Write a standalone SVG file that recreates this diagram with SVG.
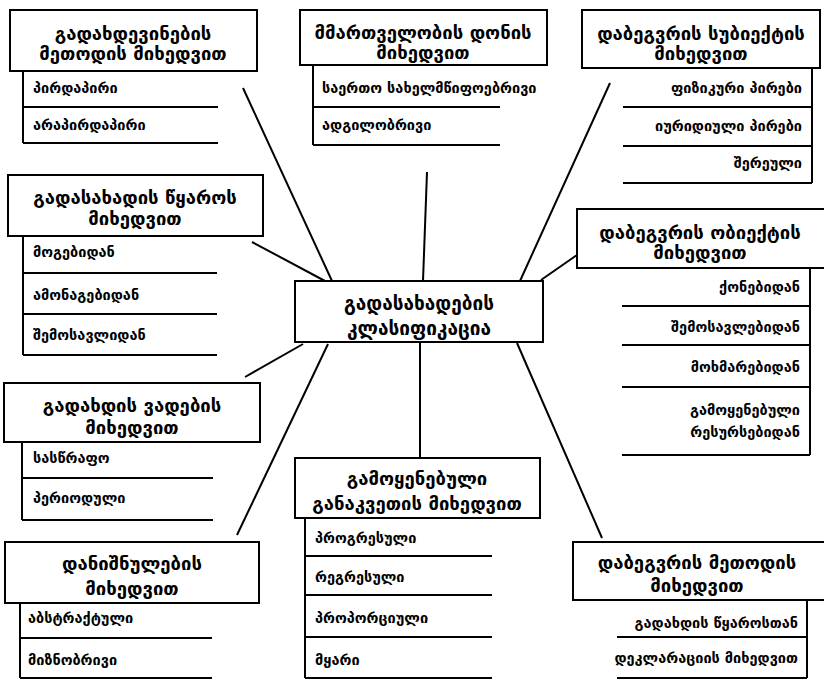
<svg xmlns="http://www.w3.org/2000/svg" width="824" height="680" viewBox="0 0 824 680">
<style>
.bg{fill:#fff}
.box{fill:#fff;stroke:#000;stroke-width:2}
.ln{stroke:#000;stroke-width:2;fill:none}
.t{font-family:"DejaVu Sans","Noto Sans",sans-serif;font-weight:bold;font-size:18.5px;fill:#000;text-anchor:middle;dominant-baseline:central}
.c{font-size:19px}
.i{font-family:"DejaVu Sans","Noto Sans",sans-serif;font-weight:bold;font-size:14.5px;fill:#000;dominant-baseline:central}
.r{text-anchor:end}
</style>
<rect class="bg" width="824" height="680"/>
<g id="connectors">
<line class="ln" x1="243" y1="88" x2="332" y2="281"/>
<line class="ln" x1="427" y1="172" x2="423" y2="281"/>
<line class="ln" x1="610" y1="83" x2="520" y2="281"/>
<line class="ln" x1="252" y1="242" x2="325" y2="281"/>
<line class="ln" x1="577" y1="255" x2="541" y2="280"/>
<line class="ln" x1="303" y1="344" x2="245" y2="377"/>
<line class="ln" x1="328" y1="344" x2="237" y2="535"/>
<line class="ln" x1="420" y1="343" x2="420" y2="458"/>
<line class="ln" x1="517" y1="343" x2="602" y2="538"/>
</g>
<g id="n1">
<rect class="box" x="10" y="10" width="247" height="61"/>
<text class="t" x="133" y="33">გადახდევინების</text>
<text class="t" x="133" y="53">მეთოდის მიხედვით</text>
<path class="ln" d="M23 71V143M23 107H218M23 143H218"/>
<text class="i" x="33" y="88">პირდაპირი</text>
<text class="i" x="33" y="125">არაპირდაპირი</text>
</g>
<g id="n2">
<rect class="box" x="300" y="10" width="247" height="55"/>
<text class="t" x="423" y="32">მმართველობის დონის</text>
<text class="t" x="423" y="52">მიხედვით</text>
<path class="ln" d="M313 65V145M313 107H500M313 145H500"/>
<text class="i" x="322" y="88">საერთო სახელმწიფოებრივი</text>
<text class="i" x="322" y="125">ადგილობრივი</text>
</g>
<g id="n3">
<rect class="box" x="582" y="10" width="238" height="58"/>
<text class="t" x="701" y="33">დაბეგვრის სუბიექტის</text>
<text class="t" x="701" y="53">მიხედვით</text>
<path class="ln" d="M812 68V183M623 107H812M623 146H812M623 183H812"/>
<text class="i r" x="802" y="88">ფიზიკური პირები</text>
<text class="i r" x="802" y="126">იურიდიული პირები</text>
<text class="i r" x="802" y="163">შერეული</text>
</g>
<g id="n4">
<rect class="box" x="8" y="175" width="255" height="61"/>
<text class="t" x="135" y="197">გადასახადის წყაროს</text>
<text class="t" x="135" y="218">მიხედვით</text>
<path class="ln" d="M23 236V355M23 273H217M23 314H217M23 355H217"/>
<text class="i" x="33" y="252">მოგებიდან</text>
<text class="i" x="33" y="295">ამონაგებიდან</text>
<text class="i" x="33" y="335">შემოსავლიდან</text>
</g>
<g id="center">
<rect class="box" x="295" y="281" width="248" height="61"/>
<text class="t c" x="419" y="303">გადასახადების</text>
<text class="t c" x="419" y="328">კლასიფიკაცია</text>
</g>
<g id="n6">
<rect class="box" x="577" y="209" width="252" height="59"/>
<text class="t" x="700" y="232">დაბეგვრის ობიექტის</text>
<text class="t" x="700" y="252">მიხედვით</text>
<path class="ln" d="M810 268V455M622 306H810M622 345H810M622 387H810M622 455H810"/>
<text class="i r" x="800" y="287">ქონებიდან</text>
<text class="i r" x="800" y="327">შემოსავლებიდან</text>
<text class="i r" x="800" y="367">მოხმარებიდან</text>
<text class="i r" x="800" y="410">გამოყენებული</text>
<text class="i r" x="800" y="432">რესურსებიდან</text>
</g>
<g id="n7">
<rect class="box" x="4" y="383" width="256" height="59"/>
<text class="t" x="132" y="405">გადახდის ვადების</text>
<text class="t" x="132" y="427">მიხედვით</text>
<path class="ln" d="M22 442V520M22 478H213M22 520H213"/>
<text class="i" x="33" y="458">სასწრაფო</text>
<text class="i" x="33" y="498">პერიოდული</text>
</g>
<g id="n8">
<rect class="box" x="5" y="542" width="254" height="61"/>
<text class="t" x="132" y="563">დანიშნულების</text>
<text class="t" x="132" y="588">მიხედვით</text>
<path class="ln" d="M20 603V678M20 638H212M20 678H212"/>
<text class="i" x="28" y="618">აბსტრაქტული</text>
<text class="i" x="28" y="660">მიზნობრივი</text>
</g>
<g id="n9">
<rect class="box" x="295" y="458" width="245" height="60"/>
<text class="t" x="417" y="478">გამოყენებული</text>
<text class="t" x="417" y="503">განაკვეთის მიხედვით</text>
<path class="ln" d="M305 518V678M305 556H492M305 595H492M305 637H492M305 678H492"/>
<text class="i" x="315" y="538">პროგრესული</text>
<text class="i" x="315" y="577">რეგრესული</text>
<text class="i" x="315" y="618">პროპორციული</text>
<text class="i" x="315" y="660">მყარი</text>
</g>
<g id="n10">
<rect class="box" x="573" y="542" width="255" height="58"/>
<text class="t" x="697" y="562">დაბეგვრის მეთოდის</text>
<text class="t" x="697" y="585">მიხედვით</text>
<path class="ln" d="M807 600V678M617 637H807M617 678H807"/>
<text class="i r" x="798" y="623">გადახდის წყაროსთან</text>
<text class="i r" x="798" y="658">დეკლარაციის მიხედვით</text>
</g>
</svg>
